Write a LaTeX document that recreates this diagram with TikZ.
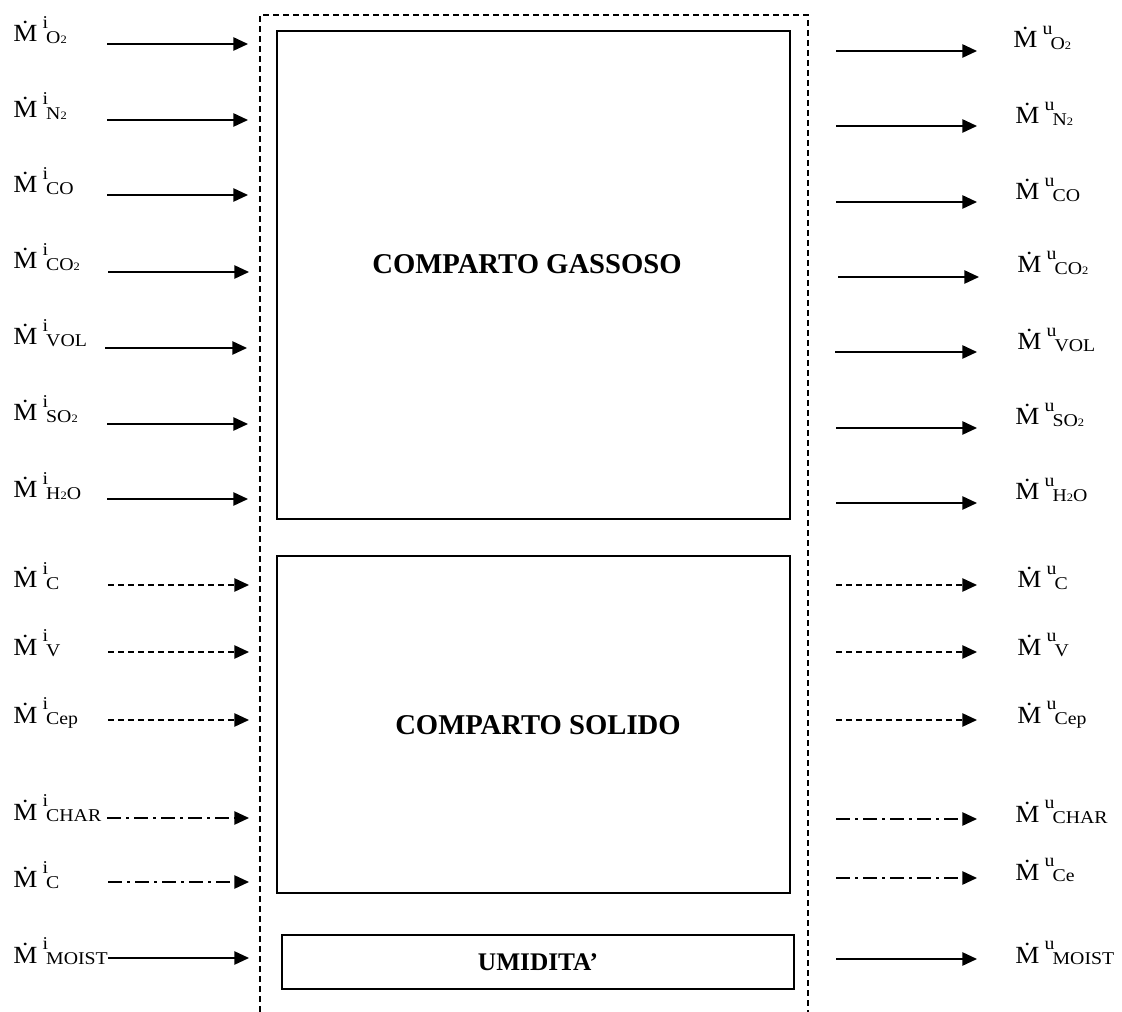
\documentclass[tikz,border=0pt]{standalone}
\usepackage{fontspec}
\setmainfont{Liberation Serif}
\newfontfamily\etichfont[FakeStretch=1.1]{Liberation Serif}
\usetikzlibrary{arrows.meta,positioning}

% portata massica: \portata{apice}{pedice}
\newcommand{\portata}[2]{\.M\hspace{4pt}\raisebox{9.8pt}{\fontsize{13.5}{15}\selectfont #1}\hspace{-1.5pt}\raisebox{-1.1pt}{\fontsize{13.5}{15}\selectfont #2}}
\newcommand{\due}{{\fontsize{8.5}{9}\selectfont 2}}

\tikzset{
  comparto/.style={rectangle, draw, line width=1.1pt, inner sep=0pt},
  titolo/.style={font=\fontsize{21.5}{24}\selectfont\bfseries, inner sep=0pt},
  etichetta/.style={anchor=base west, inner sep=0pt, font=\etichfont\fontsize{18.5}{21}\selectfont},
  confine/.style={line width=1pt, dash pattern=on 4.5pt off 3pt},
  flusso/.style={line width=1.2pt, -{Triangle[length=11pt, width=10pt]}},
  flussotratt/.style={flusso, dash pattern=on 4.5pt off 3pt},
  flussopunto/.style={flusso, dash pattern=on 10.5pt off 3.75pt on 2.25pt off 3.75pt}
}

\begin{document}
\begin{tikzpicture}[x=0.75pt, y=-0.75pt]
  \useasboundingbox (0,0) rectangle (1122,1012);

  % Volume di controllo
  \draw[confine] (260,1012) -- (260,15) -- (808,15) -- (808,1012);

  % Comparti
  \node[comparto, minimum width=384.75pt, minimum height=366pt] (gas) at (533.5,275) {};
  \node[comparto, minimum width=384.75pt, minimum height=252.75pt] (solido) at (533.5,724.5) {};
  \node[comparto, minimum width=384pt, minimum height=40.5pt, font=\fontsize{19}{22}\selectfont\bfseries] (umid) at (538,962) {UMIDITA'};
  \node[titolo] (tgas) at (527,264) {COMPARTO GASSOSO};
  \node[titolo] (tsol) at (538,725) {COMPARTO SOLIDO};

  % Portate in ingresso
  \node[etichetta] (iO2) at (13,42) {\portata{i}{O\due}};
  \node[etichetta] (iN2) at (13,118) {\portata{i}{N\due}};
  \node[etichetta] (iCO) at (13,193) {\portata{i}{CO}};
  \node[etichetta] (iCO2) at (13,269) {\portata{i}{CO\due}};
  \node[etichetta] (iVOL) at (13,345) {\portata{i}{VOL}};
  \node[etichetta] (iSO2) at (13,421) {\portata{i}{SO\due}};
  \node[etichetta] (iH2O) at (13,498) {\portata{i}{H\due O}};
  \node[etichetta] (iC) at (13,588) {\portata{i}{C}};
  \node[etichetta] (iV) at (13,655) {\portata{i}{V}};
  \node[etichetta] (iCep) at (13,723) {\portata{i}{Cep}};
  \node[etichetta] (iCHAR) at (13,820) {\portata{i}{CHAR}};
  \node[etichetta] (iCc) at (13,887) {\portata{i}{C}};
  \node[etichetta] (iMOIST) at (13,963) {\portata{i}{MOIST}};

  % Portate in uscita
  \node[etichetta] (uO2) at (1013,48) {\portata{u}{O\due}};
  \node[etichetta] (uN2) at (1015,124) {\portata{u}{N\due}};
  \node[etichetta] (uCO) at (1015,200) {\portata{u}{CO}};
  \node[etichetta] (uCO2) at (1017,273) {\portata{u}{CO\due}};
  \node[etichetta] (uVOL) at (1017,350) {\portata{u}{VOL}};
  \node[etichetta] (uSO2) at (1015,425) {\portata{u}{SO\due}};
  \node[etichetta] (uH2O) at (1015,500) {\portata{u}{H\due O}};
  \node[etichetta] (uC) at (1017,588) {\portata{u}{C}};
  \node[etichetta] (uV) at (1017,655) {\portata{u}{V}};
  \node[etichetta] (uCep) at (1017,723) {\portata{u}{Cep}};
  \node[etichetta] (uCHAR) at (1015,822) {\portata{u}{CHAR}};
  \node[etichetta] (uCe) at (1015,880) {\portata{u}{Ce}};
  \node[etichetta] (uMOIST) at (1015,963) {\portata{u}{MOIST}};

  % Estremi delle frecce in ingresso
  \coordinate (aO2) at (107,44);   \coordinate (bO2) at (248,44);
  \coordinate (aN2) at (107,120);  \coordinate (bN2) at (248,120);
  \coordinate (aCO) at (107,195);  \coordinate (bCO) at (248,195);
  \coordinate (aCO2) at (108,272); \coordinate (bCO2) at (249,272);
  \coordinate (aVOL) at (105,348); \coordinate (bVOL) at (247,348);
  \coordinate (aSO2) at (107,424); \coordinate (bSO2) at (248,424);
  \coordinate (aH2O) at (107,499); \coordinate (bH2O) at (248,499);
  \coordinate (aC) at (108,585);   \coordinate (bC) at (249,585);
  \coordinate (aV) at (108,652);   \coordinate (bV) at (249,652);
  \coordinate (aCep) at (108,720); \coordinate (bCep) at (249,720);
  \coordinate (aCHAR) at (107,818); \coordinate (bCHAR) at (249,818);
  \coordinate (aCc) at (108,882);  \coordinate (bCc) at (249,882);
  \coordinate (aMOIST) at (108,958); \coordinate (bMOIST) at (249,958);

  % Estremi delle frecce in uscita
  \coordinate (cO2) at (836,51);   \coordinate (dO2) at (977,51);
  \coordinate (cN2) at (836,126);  \coordinate (dN2) at (977,126);
  \coordinate (cCO) at (836,202);  \coordinate (dCO) at (977,202);
  \coordinate (cCO2) at (838,277); \coordinate (dCO2) at (979,277);
  \coordinate (cVOL) at (835,352); \coordinate (dVOL) at (977,352);
  \coordinate (cSO2) at (836,428); \coordinate (dSO2) at (977,428);
  \coordinate (cH2O) at (836,503); \coordinate (dH2O) at (977,503);
  \coordinate (cC) at (836,585);   \coordinate (dC) at (977,585);
  \coordinate (cV) at (836,652);   \coordinate (dV) at (977,652);
  \coordinate (cCep) at (836,720); \coordinate (dCep) at (977,720);
  \coordinate (cCHAR) at (836,819); \coordinate (dCHAR) at (977,819);
  \coordinate (cCe) at (836,878);  \coordinate (dCe) at (977,878);
  \coordinate (cMOIST) at (836,959); \coordinate (dMOIST) at (977,959);

  % Flussi gassosi
  \draw[flusso] (aO2) -- (bO2);
  \draw[flusso] (aN2) -- (bN2);
  \draw[flusso] (aCO) -- (bCO);
  \draw[flusso] (aCO2) -- (bCO2);
  \draw[flusso] (aVOL) -- (bVOL);
  \draw[flusso] (aSO2) -- (bSO2);
  \draw[flusso] (aH2O) -- (bH2O);
  \draw[flusso] (cO2) -- (dO2);
  \draw[flusso] (cN2) -- (dN2);
  \draw[flusso] (cCO) -- (dCO);
  \draw[flusso] (cCO2) -- (dCO2);
  \draw[flusso] (cVOL) -- (dVOL);
  \draw[flusso] (cSO2) -- (dSO2);
  \draw[flusso] (cH2O) -- (dH2O);

  % Flussi solidi
  \draw[flussotratt] (aC) -- (bC);
  \draw[flussotratt] (aV) -- (bV);
  \draw[flussotratt] (aCep) -- (bCep);
  \draw[flussotratt] (cC) -- (dC);
  \draw[flussotratt] (cV) -- (dV);
  \draw[flussotratt] (cCep) -- (dCep);
  \draw[flussopunto] (aCHAR) -- (bCHAR);
  \draw[flussopunto] (aCc) -- (bCc);
  \draw[flussopunto] (cCHAR) -- (dCHAR);
  \draw[flussopunto] (cCe) -- (dCe);

  % Umidita'
  \draw[flusso] (aMOIST) -- (bMOIST);
  \draw[flusso] (cMOIST) -- (dMOIST);
\end{tikzpicture}
\end{document}
